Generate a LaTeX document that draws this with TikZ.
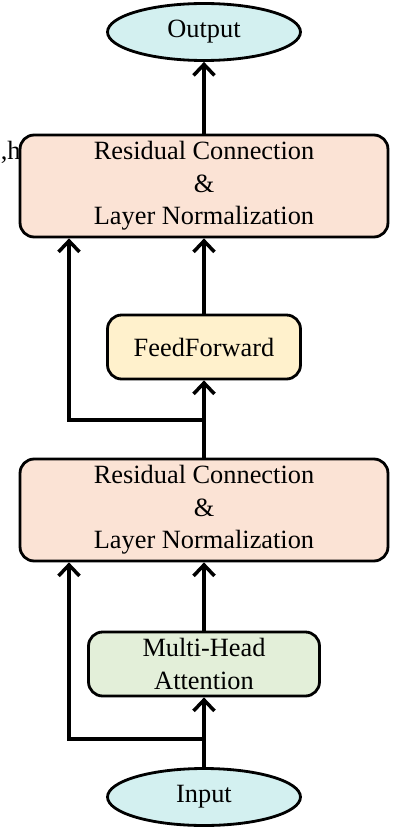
\documentclass[tikz,border=0pt]{standalone}
\usepackage{fontspec}
\setmainfont{Liberation Serif}
\usetikzlibrary{arrows.meta,shapes.geometric}

\definecolor{ioblue}{HTML}{D3F0F0}
\definecolor{normpeach}{HTML}{FBE3D5}
\definecolor{ffyellow}{HTML}{FFF1CC}
\definecolor{attgreen}{HTML}{E3EFD9}

\tikzset{
  blk/.style={draw, line width=1.6pt, rounded corners=8pt, inner sep=0pt, align=center,
    font=\fontsize{15}{18.4}\selectfont},
  normbox/.style={blk, fill=normpeach, minimum width=7.36cm, minimum height=2.04cm},
  iobox/.style={draw, line width=1.6pt, ellipse, fill=ioblue, inner sep=0pt,
    minimum width=3.86cm, minimum height=1.14cm, font=\fontsize{15}{18.4}\selectfont},
  arr/.style={line width=2pt, -{Straight Barb[length=0.22cm, width=0.42cm, line width=2pt]}}
}

\begin{document}
\begin{tikzpicture}[x=0.02cm, y=-0.02cm]
  \useasboundingbox (0,0) rectangle (406,828);

  \node[iobox] (output) at (204,32) {Output};
  \node[normbox] (norm2) at (204,186) {Residual Connection\\\&\\Layer Normalization};
  \node[blk, fill=ffyellow, minimum width=3.86cm, minimum height=1.28cm] (ffn) at (204,347) {FeedForward};
  \node[normbox] (norm1) at (204,510) {Residual Connection\\\&\\Layer Normalization};
  \node[blk, fill=attgreen, minimum width=4.62cm, minimum height=1.28cm] (mha) at (204,664) {Multi-Head\\Attention};
  \node[iobox] (input) at (204,797) {Input};
  \node[anchor=east, inner sep=0pt, font=\fontsize{15}{18.4}\selectfont] (cut) at (21,152) {,h};

  \coordinate (split1) at (204,739);
  \coordinate (skip1) at (69,739);
  \coordinate (split2) at (204,420);
  \coordinate (skip2) at (69,420);

  \draw[arr] (input.north) -- (mha.south);
  \draw[arr] (mha.north) -- (norm1.south);
  \draw[arr] (split1) -- (skip1) -- (skip1 |- norm1.south);
  \draw[arr] (norm1.north) -- (ffn.south);
  \draw[arr] (ffn.north) -- (norm2.south);
  \draw[arr] (split2) -- (skip2) -- (skip2 |- norm2.south);
  \draw[arr] (norm2.north) -- (output.south);

\end{tikzpicture}
\end{document}
